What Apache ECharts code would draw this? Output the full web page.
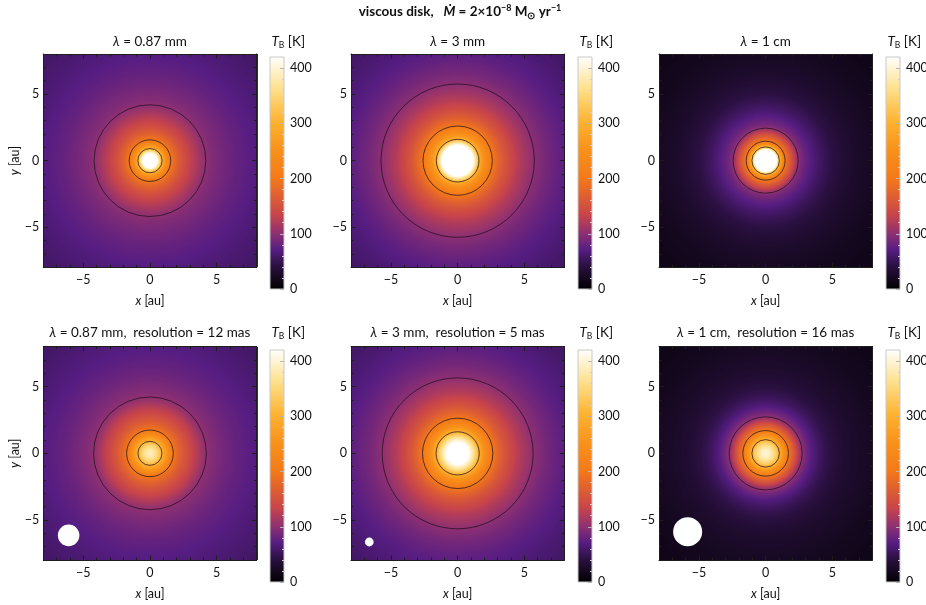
<!DOCTYPE html>
<html><head><meta charset="utf-8">
<script src="https://cdn.jsdelivr.net/npm/echarts@6/dist/echarts.min.js"></script>
<style>html,body{margin:0;padding:0;background:#fff}#c{width:926px;height:605px}</style>
</head><body><div id="c"></div>
<script>
// ---------------- data ----------------
const DISK_CENTER = [0, 0];
const RADII = [0, 0.3, 0.6, 0.8, 1.0, 1.2, 1.4, 1.6, 1.8, 2.0, 2.3, 2.6, 3.0, 3.5, 4.0, 4.5, 5.0, 5.7, 6.5, 7.5, 8.5, 10, 11.5];
const TB_087MM       = [520, 470, 400, 330, 280, 245, 215, 197, 183, 172, 158, 145, 132, 118, 104, 96, 91, 85, 79, 73, 68, 62, 57];
const TB_3MM         = [560, 540, 510, 480, 450, 410, 355, 300, 270, 247, 222, 200, 178, 156, 139, 125, 114, 100, 89, 79, 71, 63, 57];
const TB_1CM         = [560, 530, 480, 430, 320, 255, 208, 185, 165, 145, 115, 92, 80, 68, 58, 50, 43, 36, 30, 25, 21, 17, 14];
const TB_087MM_12MAS = [390, 375, 345, 315, 290, 265, 240, 215, 195, 183, 168, 155, 140, 124, 106, 97, 92, 85, 79, 73, 68, 62, 57];
const TB_3MM_5MAS    = [470, 460, 440, 420, 395, 365, 332, 300, 272, 248, 222, 200, 178, 156, 139, 125, 114, 100, 89, 79, 71, 63, 57];
const TB_1CM_16MAS   = [400, 390, 360, 335, 305, 272, 242, 214, 190, 170, 140, 110, 88, 70, 57, 48, 41, 34, 29, 25, 21, 17, 14];
const PROFILES = [TB_087MM, TB_3MM, TB_1CM, TB_087MM_12MAS, TB_3MM_5MAS, TB_1CM_16MAS];

const CONTOUR_087MM       = [0.91, 1.56, 4.19];
const CONTOUR_3MM         = [1.6, 2.6, 5.75];
const CONTOUR_1CM         = [1.03, 1.46, 2.44];
const CONTOUR_087MM_12MAS = [0.9, 1.75, 4.23];
const CONTOUR_3MM_5MAS    = [1.62, 2.64, 5.66];
const CONTOUR_1CM_16MAS   = [1.03, 1.71, 2.74];
const CONTOURS = [CONTOUR_087MM, CONTOUR_3MM, CONTOUR_1CM, CONTOUR_087MM_12MAS, CONTOUR_3MM_5MAS, CONTOUR_1CM_16MAS];

const BEAM_X = [-6.1, -6.63, -5.85];
const BEAM_Y = [-6.15, -6.65, -5.88];
const BEAM_R = [0.81, 0.33, 1.09];

const WAVELENGTHS = ['0.87 mm', '3 mm', '1 cm'];
const RESOLUTIONS = ['12 mas', '5 mas', '16 mas'];
const XY_TICKS = [-5, 0, 5];
const CB_TICKS = [0, 100, 200, 300, 400];
const CB_MINOR = [20, 40, 60, 80, 120, 140, 160, 180, 220, 240, 260, 280, 320, 340, 360, 380];
const T_MAX = 420;
const AXIS_MIN = -8, AXIS_MAX = 8;

// colour map (sunset-like)
const CMAP_POS = [0, 0.1, 0.17, 0.24, 0.32, 0.48, 0.6, 0.72, 0.86, 1];
const CMAP_COL = ['#000000', '#2a1040', '#561d82', '#8e3072', '#c8444a', '#f47a18', '#f8921a', '#fdb230', '#fee08a', '#ffffff'];

// ---------------- layout ----------------
const FONT = 'Lato, "Open Sans", sans-serif';
const TXT = '#111';
const PANEL_LEFT = [43.3, 351, 659];
const PANEL_TOP = [54, 346.7];
const PANEL_SIZE = 213.3;
const CB_LEFT = [270, 578, 886];
const CB_TOP = [57, 350];
const CB_W = 14, CB_H = 232;
const TITLE_Y = [42, 333];

function cmap(t) {
  t = Math.max(0, Math.min(1, t));
  for (let i = 0; i < CMAP_POS.length - 1; i++) {
    if (t <= CMAP_POS[i + 1]) {
      const f = (t - CMAP_POS[i]) / (CMAP_POS[i + 1] - CMAP_POS[i]);
      return echarts.color.lerp(f, [CMAP_COL[i], CMAP_COL[i + 1]]);
    }
  }
  return CMAP_COL[CMAP_COL.length - 1];
}
const fmtMinus = v => String(v).replace('-', '\u2212');

const grid = [], xAxis = [], yAxis = [], series = [];
const frameColor = '#1e1e1e';

function panelAxes(p, col, row) {
  const base = {
    type: 'value', min: AXIS_MIN, max: AXIS_MAX, z: 6,
    splitLine: { show: false }, gridIndex: p
  };
  const lineA = { show: true, onZero: false, lineStyle: { color: frameColor, width: 1 } };
  const minorTick = { show: true, inside: true, length: 2.5, lineStyle: { color: frameColor, width: 1 } };
  const majorTick = { show: true, inside: true, length: 4.5, customValues: XY_TICKS, lineStyle: { color: frameColor, width: 1 } };
  const label = { show: true, customValues: XY_TICKS, formatter: fmtMinus, fontSize: 12.5, fontFamily: FONT, color: TXT };
  const nameStyle = { fontSize: 12.5, fontFamily: FONT, color: TXT,
    rich: { i: { fontStyle: 'italic', fontSize: 12.5, fontFamily: FONT, color: TXT }, n: { fontSize: 12.5, fontFamily: FONT, color: TXT } } };
  xAxis.push(Object.assign({}, base, { position: 'bottom', interval: 1, axisLine: lineA, axisTick: minorTick, axisLabel: { show: false },
    name: '{i|x}{n| [au]}', nameLocation: 'middle', nameGap: 27, nameTextStyle: nameStyle }));
  xAxis.push(Object.assign({}, base, { position: 'bottom', axisLine: { show: false, onZero: false }, axisTick: majorTick, axisLabel: Object.assign({ margin: 6 }, label) }));
  xAxis.push(Object.assign({}, base, { position: 'top', interval: 1, axisLine: lineA, axisTick: minorTick, axisLabel: { show: false } }));
  xAxis.push(Object.assign({}, base, { position: 'top', axisLine: { show: false, onZero: false }, axisTick: majorTick, axisLabel: { show: false } }));
  const yA = Object.assign({}, base, { position: 'left', interval: 1, axisLine: lineA, axisTick: minorTick, axisLabel: { show: false } });
  if (col === 0) Object.assign(yA, { name: '{i|y}{n| [au]}', nameLocation: 'middle', nameGap: 22, nameTextStyle: nameStyle });
  yAxis.push(yA);
  yAxis.push(Object.assign({}, base, { position: 'left', axisLine: { show: false, onZero: false }, axisTick: majorTick, axisLabel: Object.assign({ margin: 4 }, label) }));
  yAxis.push(Object.assign({}, base, { position: 'right', interval: 1, axisLine: lineA, axisTick: minorTick, axisLabel: { show: false } }));
  yAxis.push(Object.assign({}, base, { position: 'right', axisLine: { show: false, onZero: false }, axisTick: majorTick, axisLabel: { show: false } }));
}

const graphic = [];
graphic.push({
  type: 'text', x: 460, y: 12, z: 100,
  style: {
    text: '{b|viscous disk,   }{bi|\u1E40}{b| = 2\u00D710}{sup|\u22128}{b| M}{sub|\u2299}{b| yr}{sup|\u22121}',
    align: 'center', verticalAlign: 'middle',
    rich: {
      b: { fontSize: 13.5, fontWeight: 'bold', fontFamily: FONT, fill: TXT, lineHeight: 17, verticalAlign: 'middle' },
      bi: { fontSize: 13.5, fontWeight: 'bold', fontStyle: 'italic', fontFamily: FONT, fill: TXT, lineHeight: 17, verticalAlign: 'middle' },
      sup: { fontSize: 9, fontWeight: 'bold', fontFamily: FONT, fill: TXT, lineHeight: 9.5, verticalAlign: 'top' },
      sub: { fontSize: 9.5, fontWeight: 'bold', fontFamily: FONT, fill: TXT, lineHeight: 11.5, verticalAlign: 'bottom' }
    }
  }
});

for (let p = 0; p < 6; p++) {
  const col = p % 3, row = Math.floor(p / 3);
  grid.push({ left: PANEL_LEFT[col], top: PANEL_TOP[row], width: PANEL_SIZE, height: PANEL_SIZE, outerBoundsMode: 'none' });
  panelAxes(p, col, row);
  const xi = p * 4, yi = p * 4;
  const prof = PROFILES[p];

  series.push({
    type: 'custom', xAxisIndex: xi, yAxisIndex: yi, clip: true, z: 2, silent: true,
    data: [DISK_CENTER],
    renderItem: (params, api) => {
      const c = api.coord([api.value(0), api.value(1)]);
      const R = RADII[RADII.length - 1];
      const rp = api.size([R, R])[0];
      const stops = [];
      for (let i = 0; i < RADII.length; i++) {
        stops.push({ offset: RADII[i] / R, color: cmap(prof[i] / T_MAX) });
        if (i < RADII.length - 1) {
          for (let k = 1; k < 6; k++) {
            const f = k / 6;
            stops.push({ offset: (RADII[i] + f * (RADII[i + 1] - RADII[i])) / R,
              color: cmap((prof[i] + f * (prof[i + 1] - prof[i])) / T_MAX) });
          }
        }
      }
      return { type: 'circle', shape: { cx: c[0], cy: c[1], r: rp },
        style: { fill: { type: 'radial', x: 0.5, y: 0.5, r: 0.5, colorStops: stops } } };
    }
  });
  series.push({
    type: 'custom', xAxisIndex: xi, yAxisIndex: yi, clip: true, z: 3, silent: true,
    data: CONTOURS[p].map(r => [DISK_CENTER[0], DISK_CENTER[1], r]),
    renderItem: (params, api) => {
      const c = api.coord([api.value(0), api.value(1)]);
      const r = api.size([api.value(2), 0])[0];
      return { type: 'circle', shape: { cx: c[0], cy: c[1], r: r },
        style: { fill: 'none', stroke: 'rgba(28,14,28,0.72)', lineWidth: 1 } };
    }
  });
  if (row === 1) {
    series.push({
      type: 'custom', xAxisIndex: xi, yAxisIndex: yi, clip: true, z: 4, silent: true,
      data: [[BEAM_X[col], BEAM_Y[col], BEAM_R[col]]],
      renderItem: (params, api) => {
        const c = api.coord([api.value(0), api.value(1)]);
        const r = api.size([api.value(2), 0])[0];
        return { type: 'circle', shape: { cx: c[0], cy: c[1], r: r }, style: { fill: '#ffffff' } };
      }
    });
  }

  const titleText = row === 0
    ? '{i|\u03BB}{n| = ' + WAVELENGTHS[col] + '}'
    : '{i|\u03BB}{n| = ' + WAVELENGTHS[col] + ',  resolution = ' + RESOLUTIONS[col] + '}';
  graphic.push({
    type: 'text', x: PANEL_LEFT[col] + PANEL_SIZE / 2, y: TITLE_Y[row], z: 100,
    style: { text: titleText, align: 'center', verticalAlign: 'middle',
      rich: { i: { fontStyle: 'italic', fontSize: 13.5, fontFamily: FONT, fill: TXT },
              n: { fontSize: 13.5, fontFamily: FONT, fill: TXT } } }
  });
  graphic.push({
    type: 'text', x: CB_LEFT[col] + 1.5, y: TITLE_Y[row], z: 100,
    style: { text: '{i|T}{sub|B}{n| [K]}', align: 'left', verticalAlign: 'middle',
      rich: { i: { fontStyle: 'italic', fontSize: 13.5, fontFamily: FONT, fill: TXT, lineHeight: 16, verticalAlign: 'middle' },
              sub: { fontSize: 8.5, fontFamily: FONT, fill: TXT, lineHeight: 9, verticalAlign: 'bottom' },
              n: { fontSize: 13.5, fontFamily: FONT, fill: TXT, lineHeight: 16, verticalAlign: 'middle' } } }
  });
}

for (let p = 0; p < 6; p++) {
  const col = p % 3, row = Math.floor(p / 3);
  const g = grid.length;
  grid.push({ left: CB_LEFT[col], top: CB_TOP[row], width: CB_W, height: CB_H, outerBoundsMode: 'none' });
  const xi = xAxis.length;
  xAxis.push({ type: 'value', gridIndex: g, min: 0, max: 1, show: false });
  const yi = yAxis.length;
  yAxis.push({ type: 'value', gridIndex: g, min: 0, max: T_MAX, position: 'right', z: 6,
    axisLine: { show: false, onZero: false }, splitLine: { show: false },
    axisTick: { show: true, inside: true, length: 4, customValues: CB_TICKS, lineStyle: { color: '#b5b5b5' } },
    axisLabel: { show: true, customValues: CB_TICKS, margin: 6, fontSize: 12.5, fontFamily: FONT, color: TXT } });
  yAxis.push({ type: 'value', gridIndex: g, min: 0, max: T_MAX, position: 'right', z: 6,
    axisLine: { show: false, onZero: false }, splitLine: { show: false },
    axisTick: { show: true, inside: true, length: 2, customValues: CB_MINOR, lineStyle: { color: '#d0d0d0' } },
    axisLabel: { show: false } });
  series.push({
    type: 'custom', xAxisIndex: xi, yAxisIndex: yi, z: 2, silent: true,
    data: [[0, T_MAX]],
    renderItem: (params, api) => {
      const p0 = api.coord([0, api.value(0)]);
      const p1 = api.coord([1, api.value(1)]);
      return { type: 'rect',
        shape: { x: p0[0], y: p1[1], width: p1[0] - p0[0], height: p0[1] - p1[1] },
        style: { stroke: '#c8c8c8', lineWidth: 1,
          fill: { type: 'linear', x: 0, y: 1, x2: 0, y2: 0,
            colorStops: CMAP_POS.map((o, i) => ({ offset: o, color: CMAP_COL[i] })) } } };
    }
  });
}

const chart = echarts.init(document.getElementById('c'), null, { renderer: 'canvas', width: 926, height: 605 });
chart.setOption({
  animation: false,
  backgroundColor: '#ffffff',
  textStyle: { fontFamily: FONT },
  grid, xAxis, yAxis, series, graphic
});
</script></body></html>
